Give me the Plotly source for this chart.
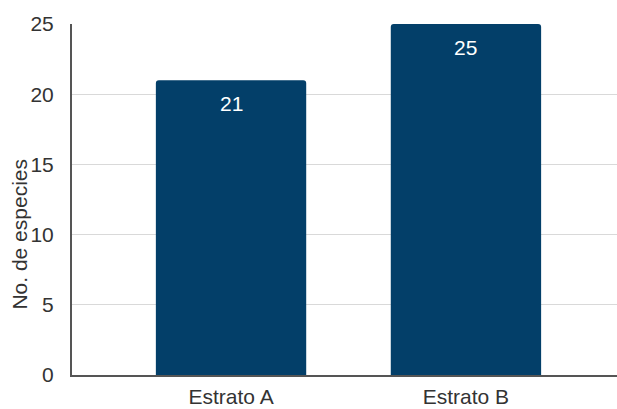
import plotly.graph_objects as go

categories = ["Estrato A", "Estrato B"]
values = [21, 25]
y_ticks = [0, 5, 10, 15, 20, 25]
y_title = "No. de especies"

FONT = "Liberation Sans, Arial, sans-serif"
TXT = "#333333"

fig = go.Figure(go.Bar(
    x=categories,
    y=values,
    width=0.64,
    marker=dict(color="#033f69", cornerradius=3, line=dict(width=0)),
    hoverinfo="x+y",
    cliponaxis=False,
))

for c, v in zip(categories, values):
    fig.add_annotation(
        x=c, y=v, text=str(v), showarrow=False,
        yanchor="top", yshift=-10,
        font=dict(family=FONT, size=21, color="white"),
    )

# y-axis title (placed as a rotated annotation so it sits slightly below centre like the reference)
fig.add_annotation(
    xref="paper", yref="paper", x=-0.0954, y=0.40,
    xanchor="center", yanchor="middle", textangle=-90,
    text=y_title, showarrow=False,
    font=dict(family=FONT, size=21, color=TXT),
)

fig.update_layout(
    width=617, height=409,
    margin=dict(l=72, r=0, t=24, b=34, pad=0),
    paper_bgcolor="white", plot_bgcolor="white",
    font=dict(family=FONT, size=21, color=TXT),
    showlegend=False,
)
fig.update_xaxes(
    range=[-0.677, 1.643], automargin=False,
    showline=True, linecolor="#555555", linewidth=2,
    showgrid=False, ticks="", ticklabelstandoff=2,
    tickfont=dict(family=FONT, size=21, color=TXT),
)
fig.update_yaxes(
    range=[0, 25], tickvals=y_ticks, automargin=False,
    showline=True, linecolor="#555555", linewidth=2,
    showgrid=True, gridcolor="#d9d9d9", gridwidth=1,
    zeroline=False, ticks="", ticklabelstandoff=12,
    tickfont=dict(family=FONT, size=21, color=TXT),
)

fig.write_html(
    "out.html",
    config={"displayModeBar": False},
    post_script="document.body.style.margin='0';document.body.style.overflow='hidden';",
)
